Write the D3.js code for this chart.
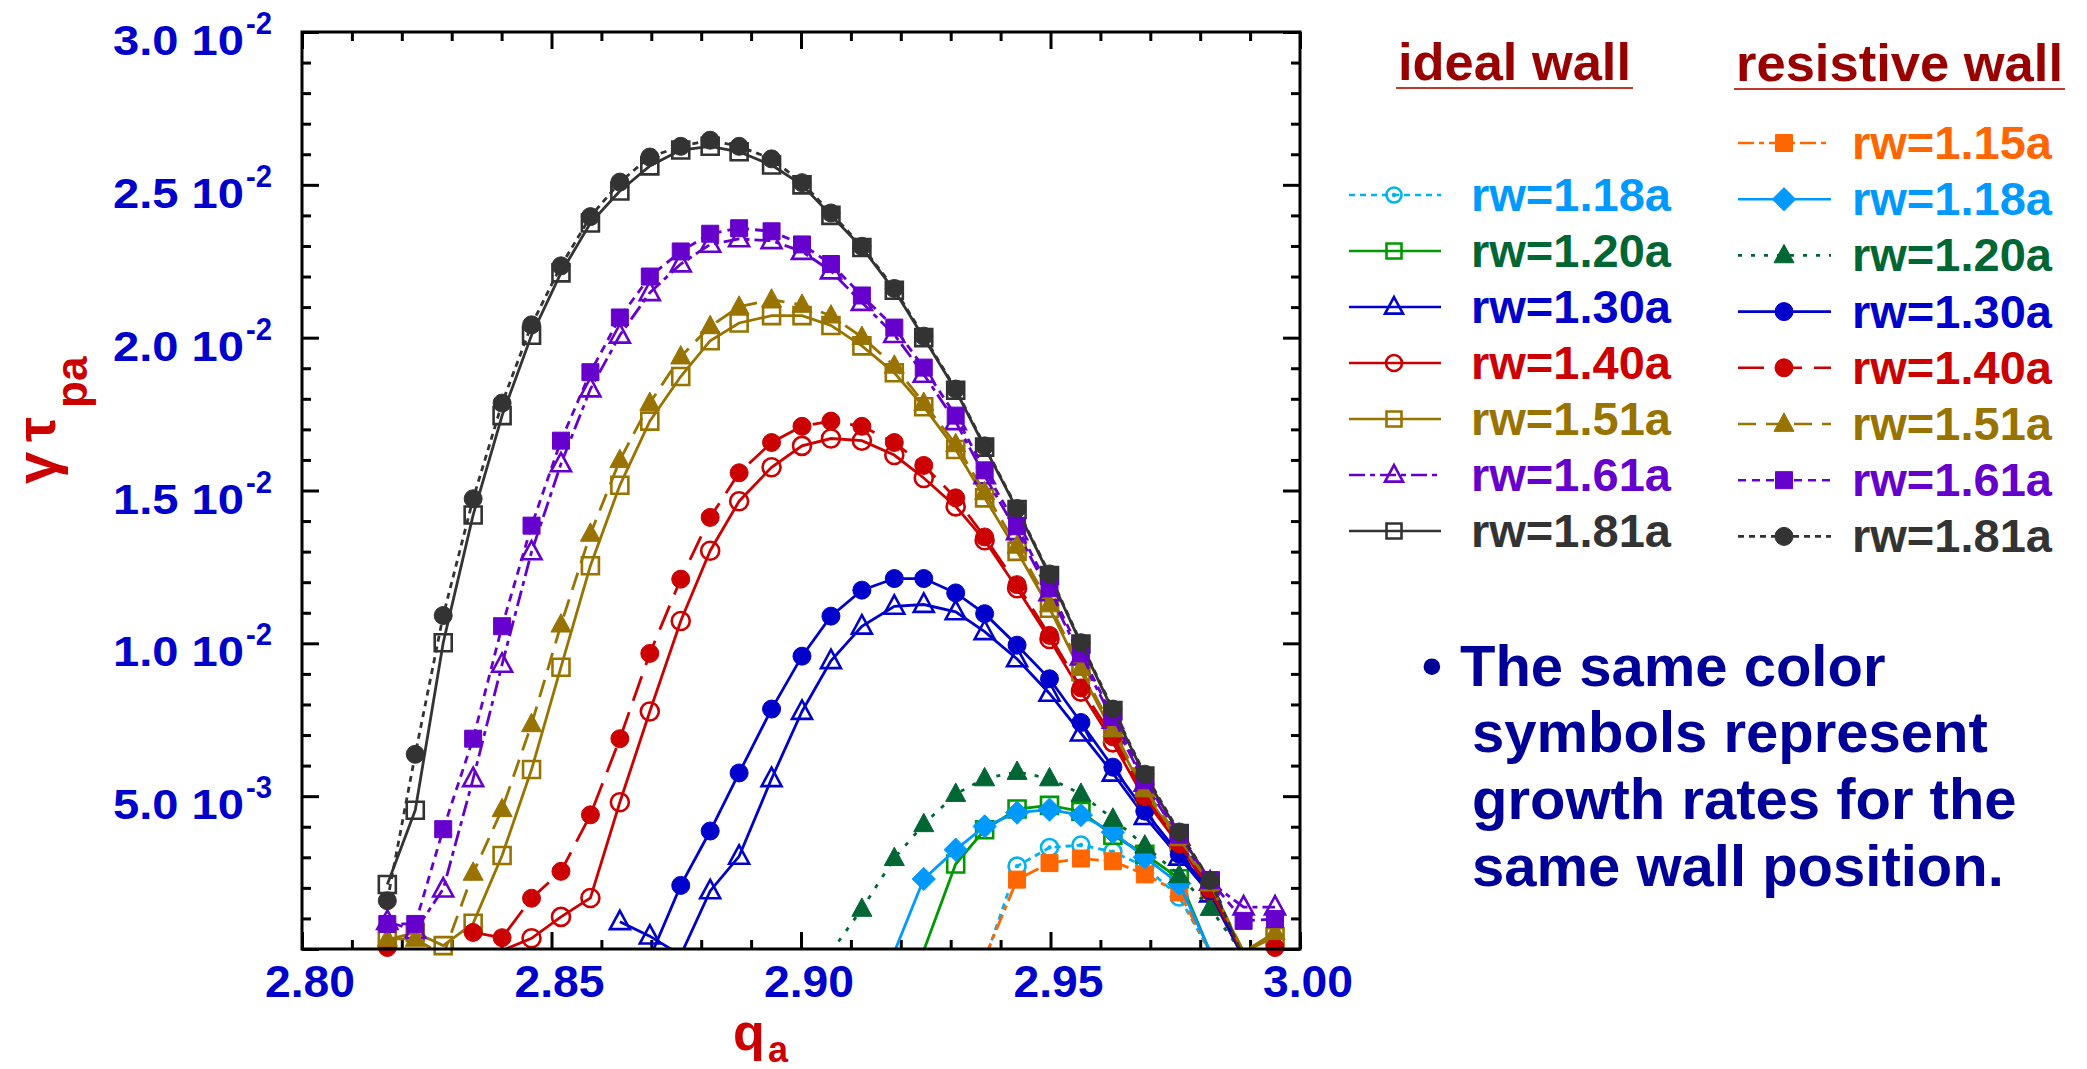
<!DOCTYPE html>
<html>
<head>
<meta charset="utf-8">
<script src="https://cdn.jsdelivr.net/npm/d3@7"></script>
<style>
  html, body { margin: 0; padding: 0; background: #ffffff; }
  svg { display: block; }
  text { font-family: "Liberation Sans", Arial, Helvetica, sans-serif; font-weight: bold; }
</style>
</head>
<body>
<svg id="chart" width="2087" height="1069"></svg>
<script>
// Safety factor q_a at which growth rates were computed (shared by all runs)
const qa = [2.8171, 2.8227, 2.8283, 2.8343, 2.8401, 2.8460, 2.8519, 2.8578, 2.8637, 2.8697,
            2.8759, 2.8818, 2.8876, 2.8941, 2.9002, 2.9060, 2.9122, 2.9187, 2.9246, 2.9310,
            2.9368, 2.9433, 2.9498, 2.9561, 2.9625, 2.9689, 2.9758, 2.9820, 2.9887, 2.9950];

// Normalised growth rate gamma*tau_pa, in units of 1e-2 (null = not computed)
const _ = null;
// ideal wall
const ideal118 = [_, _, _, _, _, _, _, _, _, _,
                  _, _, _, _, _, _, _, _, _, _,
                  -0.04, 0.271, 0.332, 0.340, 0.318, 0.270, 0.170, -0.01, _, _];
const ideal120 = [_, _, _, _, _, _, _, _, _, _,
                  _, _, _, _, _, _, _, _, -0.005, 0.278,
                  0.390, 0.458, 0.470, 0.450, 0.372, 0.310, 0.230, -0.01, _, _];
const ideal130 = [_, _, _, _, _, _, _, _, 0.089, 0.042,
                  -0.02, 0.190, 0.303, 0.557, 0.777, 0.943, 1.056, 1.121, 1.127, 1.103,
                  1.038, 0.949, 0.836, 0.706, 0.575, 0.433, 0.300, 0.180, -0.03, _];
const ideal140 = [_, _, _, _, -0.005, 0.035, 0.105, 0.167, 0.480, 0.777,
                  1.073, 1.303, 1.465, 1.576, 1.646, 1.670, 1.663, 1.616, 1.541, 1.448,
                  1.337, 1.180, 1.014, 0.842, 0.676, 0.490, 0.340, 0.190, -0.03, _];
const ideal151 = [0.030, 0.054, 0.011, 0.084, 0.306, 0.587, 0.922, 1.254, 1.517, 1.727,
                  1.873, 1.990, 2.048, 2.072, 2.072, 2.040, 1.973, 1.885, 1.774, 1.634,
                  1.476, 1.301, 1.115, 0.907, 0.706, 0.510, 0.350, 0.205, -0.01, 0.040];
const ideal161 = [0.090, 0.060, 0.196, 0.557, 0.931, 1.299, 1.587, 1.832, 2.008, 2.147,
                  2.241, 2.305, 2.323, 2.317, 2.282, 2.218, 2.115, 2.010, 1.880, 1.725,
                  1.548, 1.365, 1.165, 0.955, 0.748, 0.542, 0.365, 0.218, 0.137, 0.137];
const ideal181 = [0.211, 0.454, 1.002, 1.420, 1.745, 2.008, 2.212, 2.375, 2.480, 2.562,
                  2.614, 2.626, 2.608, 2.565, 2.500, 2.400, 2.295, 2.155, 2.000, 1.828,
                  1.642, 1.438, 1.222, 0.998, 0.780, 0.566, 0.378, 0.222, -0.03, _];
// resistive wall
const resist115 = [_, _, _, _, _, _, _, _, _, _,
                   _, _, _, _, _, _, _, _, _, _,
                   -0.03, 0.227, 0.281, 0.296, 0.287, 0.244, 0.185, -0.01, _, _];
const resist118 = [_, _, _, _, _, _, _, _, _, _,
                   _, _, _, _, _, _, _, -0.01, 0.229, 0.325,
                   0.401, 0.446, 0.456, 0.438, 0.382, 0.300, 0.214, -0.01, _, _];
const resist120 = [_, _, _, _, _, _, _, _, _, _,
                   _, _, _, _, _, -0.01, 0.131, 0.297, 0.408, 0.507,
                   0.558, 0.579, 0.558, 0.507, 0.426, 0.338, 0.241, 0.134, -0.02, _];
const resist130 = [_, _, _, _, _, _, _, _, _, -0.03,
                   0.208, 0.386, 0.576, 0.785, 0.958, 1.089, 1.174, 1.212, 1.212, 1.165,
                   1.097, 0.994, 0.884, 0.741, 0.595, 0.451, 0.310, 0.191, -0.03, _];
const resist140 = [0.005, _, _, 0.054, 0.037, 0.166, 0.254, 0.439, 0.688, 0.967,
                   1.210, 1.412, 1.558, 1.657, 1.710, 1.727, 1.710, 1.657, 1.582, 1.476,
                   1.348, 1.192, 1.026, 0.854, 0.694, 0.498, 0.344, 0.196, -0.02, 0.005];
const resist151 = [0.033, 0.033, -0.02, 0.249, 0.457, 0.735, 1.061, 1.358, 1.599, 1.786,
                   1.938, 2.037, 2.101, 2.124, 2.107, 2.072, 2.002, 1.908, 1.786, 1.651,
                   1.494, 1.319, 1.127, 0.919, 0.718, 0.522, 0.362, 0.214, -0.01, 0.055];
const resist161 = [0.082, 0.082, 0.392, 0.688, 1.056, 1.385, 1.663, 1.887, 2.066, 2.200,
                   2.282, 2.340, 2.358, 2.348, 2.305, 2.241, 2.138, 2.033, 1.902, 1.745,
                   1.566, 1.383, 1.180, 0.967, 0.759, 0.552, 0.374, 0.225, 0.092, 0.098];
const resist181 = [0.158, 0.637, 1.091, 1.473, 1.786, 2.042, 2.235, 2.396, 2.509, 2.591,
                   2.626, 2.646, 2.626, 2.585, 2.507, 2.408, 2.299, 2.161, 2.005, 1.832,
                   1.646, 1.441, 1.227, 1.002, 0.785, 0.572, 0.383, 0.225, -0.03, _];

// Legend labels
const idealLabels  = ["rw=1.18a", "rw=1.20a", "rw=1.30a", "rw=1.40a", "rw=1.51a", "rw=1.61a", "rw=1.81a"];
const resistLabels = ["rw=1.15a", "rw=1.18a", "rw=1.20a", "rw=1.30a", "rw=1.40a", "rw=1.51a", "rw=1.61a", "rw=1.81a"];

// Axis ticks
const xTickValues = [2.80, 2.85, 2.90, 2.95, 3.00];
const xTickLabels = ["2.80", "2.85", "2.90", "2.95", "3.00"];
const yTickValues = [0.5, 1.0, 1.5, 2.0, 2.5, 3.0];
const yTickMantissa = ["5.0", "1.0", "1.5", "2.0", "2.5", "3.0"];
const yTickExponent = ["-3", "-2", "-2", "-2", "-2", "-2"];

const noteLines = ["The same color", "symbols represent", "growth rates for the", "same wall position."];

// ---- drawing styles ----
const C = {
  cyan: "#00b4f0", sky: "#0099ff", green: "#009900", dkgreen: "#006633",
  blue: "#0000cc", red: "#cc0000", gold: "#997300", purple: "#6600cc",
  grey: "#333333", orange: "#ff6600"
};

const idealSeries = [
  { values: ideal118, color: C.cyan,   text: C.sky,     dash: "6,5",          mark: "circleDot" },
  { values: ideal120, color: C.green,  text: C.dkgreen, dash: null,           mark: "square" },
  { values: ideal130, color: C.blue,   text: C.blue,    dash: null,           mark: "triangle" },
  { values: ideal140, color: C.red,    text: C.red,     dash: null,           mark: "circle" },
  { values: ideal151, color: C.gold,   text: C.gold,    dash: null,           mark: "square" },
  { values: ideal161, color: C.purple, text: C.purple,  dash: "16,5,5,5",     mark: "triangle" },
  { values: ideal181, color: C.grey,   text: C.grey,    dash: null,           mark: "square" }
];
const resistSeries = [
  { values: resist115, color: C.orange,  text: C.orange,  dash: "16,5,5,5", mark: "square" },
  { values: resist118, color: C.sky,     text: C.sky,     dash: null,       mark: "diamond" },
  { values: resist120, color: C.dkgreen, text: C.dkgreen, dash: "4,9",      mark: "triangle" },
  { values: resist130, color: C.blue,    text: C.blue,    dash: null,       mark: "circle" },
  { values: resist140, color: C.red,     text: C.red,     dash: "26,12",    mark: "circle" },
  { values: resist151, color: C.gold,    text: C.gold,    dash: "18,10",    mark: "triangle" },
  { values: resist161, color: C.purple,  text: C.purple,  dash: "8,6",      mark: "square" },
  { values: resist181, color: C.grey,    text: C.grey,    dash: "6,5",      mark: "circle" }
];

const svg = d3.select("#chart");
const W = 2087, H = 1069;
svg.append("rect").attr("width", W).attr("height", H).attr("fill", "#fff");

const P = { left: 302, right: 1300, top: 32, bottom: 949 };
const x = d3.scaleLinear().domain([2.80, 3.00]).range([P.left, P.right]);
const y = d3.scaleLinear().domain([0, 3.0]).range([P.bottom, P.top]);

// clip for the curves
svg.append("defs").append("clipPath").attr("id", "plotClip")
  .append("rect").attr("x", P.left).attr("y", P.top)
  .attr("width", P.right - P.left).attr("height", P.bottom - P.top);

// ---- ticks on all four sides (pointing inwards) ----
const xMinor = d3.range(0, 21).map(i => 2.80 + i * 0.01).filter(v => Math.abs(v * 20 - Math.round(v * 20)) > 1e-6);
const yMinor = d3.range(0, 31).map(i => i * 0.1).filter(v => Math.abs(v * 2 - Math.round(v * 2)) > 1e-6);
const yMajor = d3.range(0, 7).map(i => i * 0.5);

function tickAxis(gen, transform, values, size) {
  const g = svg.append("g").attr("transform", transform)
    .call(gen.tickValues(values).tickSize(size).tickFormat(""));
  g.select(".domain").remove();
  g.selectAll(".tick line").attr("stroke", "#000").attr("stroke-width", 3);
  return g;
}
tickAxis(d3.axisTop(x), `translate(0,${P.bottom})`, xTickValues, 17);
tickAxis(d3.axisTop(x), `translate(0,${P.bottom})`, xMinor, 9);
tickAxis(d3.axisBottom(x), `translate(0,${P.top})`, xTickValues, 17);
tickAxis(d3.axisBottom(x), `translate(0,${P.top})`, xMinor, 9);
tickAxis(d3.axisRight(y), `translate(${P.left},0)`, yMajor, 17);
tickAxis(d3.axisRight(y), `translate(${P.left},0)`, yMinor, 9);
tickAxis(d3.axisLeft(y), `translate(${P.right},0)`, yMajor, 17);
tickAxis(d3.axisLeft(y), `translate(${P.right},0)`, yMinor, 9);

// ---- marker shapes ----
function markerPath(type, s) {
  if (type === "circle" || type === "circleDot") return d3.symbol(d3.symbolCircle, Math.PI * s * s / 4)();
  if (type === "square") return d3.symbol(d3.symbolSquare, s * s)();
  if (type === "triangle") {
    const h = s * 0.92, w = s;
    return `M0,${-h * 0.6}L${w / 2},${h * 0.4}L${-w / 2},${h * 0.4}Z`;
  }
  if (type === "diamond") {
    const r = s * 0.58;
    return `M0,${-r}L${r},0L0,${r}L${-r},0Z`;
  }
}
function drawMarker(g, type, cx, cy, color, filled, s) {
  g.append("path").attr("d", markerPath(type, s))
    .attr("transform", `translate(${cx},${cy})`)
    .attr("fill", filled ? color : "none")
    .attr("stroke", color).attr("stroke-width", filled ? 1 : 2.6);
  if (type === "circleDot") {
    g.append("circle").attr("cx", cx).attr("cy", cy).attr("r", 2.2).attr("fill", color);
  }
}
const markSize = { circle: 18, circleDot: 17, square: 17, triangle: 20, diamond: 20 };

// ---- curves ----
const line = d3.line()
  .defined(d => d.v !== null)
  .x(d => x(d.q)).y(d => y(d.v));

function drawSeries(s, filled) {
  const pts = qa.map((q, i) => ({ q, v: s.values[i] }));
  const g = svg.append("g");
  g.append("path").datum(pts)
    .attr("clip-path", "url(#plotClip)")
    .attr("d", line)
    .attr("fill", "none").attr("stroke", s.color).attr("stroke-width", 2.8)
    .attr("stroke-dasharray", s.dash);
  pts.filter(d => d.v !== null && d.v >= 0).forEach(d =>
    drawMarker(g, s.mark, x(d.q), y(d.v), s.color, filled, markSize[s.mark]));
}
idealSeries.forEach(s => drawSeries(s, false));
resistSeries.forEach(s => drawSeries(s, true));

// ---- frame ----
svg.append("rect").attr("x", P.left).attr("y", P.top)
  .attr("width", P.right - P.left).attr("height", P.bottom - P.top)
  .attr("fill", "none").attr("stroke", "#000").attr("stroke-width", 3);

// ---- tick labels ----
svg.append("g").selectAll("text").data(xTickValues).join("text")
  .attr("x", d => x(d) + 8).attr("y", 997)
  .attr("text-anchor", "middle").attr("font-size", 44).attr("fill", C.blue)
  .attr("textLength", 90).attr("lengthAdjust", "spacingAndGlyphs")
  .text((d, i) => xTickLabels[i]);

const yl = svg.append("g");
yTickValues.forEach((v, i) => {
  yl.append("text").attr("x", 244).attr("y", y(v) + 23)
    .attr("text-anchor", "end").attr("font-size", 42).attr("fill", C.blue)
    .attr("textLength", 131).attr("lengthAdjust", "spacingAndGlyphs")
    .text(yTickMantissa[i] + " 10");
  yl.append("text").attr("x", 246).attr("y", y(v) + 2)
    .attr("font-size", 32).attr("fill", C.blue)
    .attr("textLength", 26).attr("lengthAdjust", "spacingAndGlyphs")
    .text(yTickExponent[i]);
});

// ---- axis titles ----
const titleRed = "#cc0000";
svg.append("text").attr("transform", "translate(56,484) rotate(-90)")
  .attr("font-size", 58).attr("fill", titleRed).text("γ");
svg.append("text").attr("transform", "translate(55,442) rotate(-90)")
  .attr("font-size", 56).attr("fill", titleRed).text("τ");
svg.append("text").attr("transform", "translate(87,408) rotate(-90)")
  .attr("font-size", 44).attr("fill", titleRed).text("pa");

svg.append("text").attr("x", 733).attr("y", 1050)
  .attr("font-size", 52).attr("fill", titleRed).text("q");
svg.append("text").attr("x", 768).attr("y", 1062)
  .attr("font-size", 36).attr("fill", titleRed).text("a");

// ---- legend ----
const headColor = "#990000";
function header(txt, x0, x1, base, uy) {
  svg.append("text").attr("x", x0).attr("y", base).attr("font-size", 52)
    .attr("fill", headColor).attr("textLength", x1 - x0).attr("lengthAdjust", "spacingAndGlyphs")
    .text(txt);
  svg.append("line").attr("x1", x0 - 2).attr("x2", x1 + 2).attr("y1", uy).attr("y2", uy)
    .attr("stroke", "#c0392b").attr("stroke-width", 2);
}
header("ideal wall", 1398, 1631, 80, 88);
header("resistive wall", 1736, 2063, 81, 89);

function legendColumn(series, labels, lineX0, lineX1, markX, textX, y0, dy, filled) {
  series.forEach((s, i) => {
    const cy = y0 + i * dy;
    const g = svg.append("g");
    g.append("line").attr("x1", lineX0).attr("x2", lineX1).attr("y1", cy).attr("y2", cy)
      .attr("stroke", s.color).attr("stroke-width", 2.6).attr("stroke-dasharray", s.dash);
    const sz = filled ? markSize[s.mark] : markSize[s.mark] - 2;
    drawMarker(g, s.mark, markX, cy, s.color, filled, sz);
    g.append("text").attr("x", textX).attr("y", cy + 16).attr("font-size", 47)
      .attr("fill", s.text).attr("textLength", 200).attr("lengthAdjust", "spacingAndGlyphs")
      .text(labels[i]);
  });
}
legendColumn(idealSeries, idealLabels, 1349, 1441, 1394, 1471, 195, 56, false);
legendColumn(resistSeries, resistLabels, 1738, 1831, 1784, 1852, 143, 56.2, true);

// ---- note ----
const noteColor = "#000099";
svg.append("text").attr("x", 1432).attr("y", 686).attr("text-anchor", "middle")
  .attr("font-size", 58).attr("fill", noteColor).text("•");
noteLines.forEach((t, i) => {
  svg.append("text").attr("x", i === 0 ? 1460 : 1472).attr("y", [686, 752, 819, 886][i])
    .attr("font-size", 58).attr("fill", noteColor).text(t);
});
</script>
</body>
</html>
